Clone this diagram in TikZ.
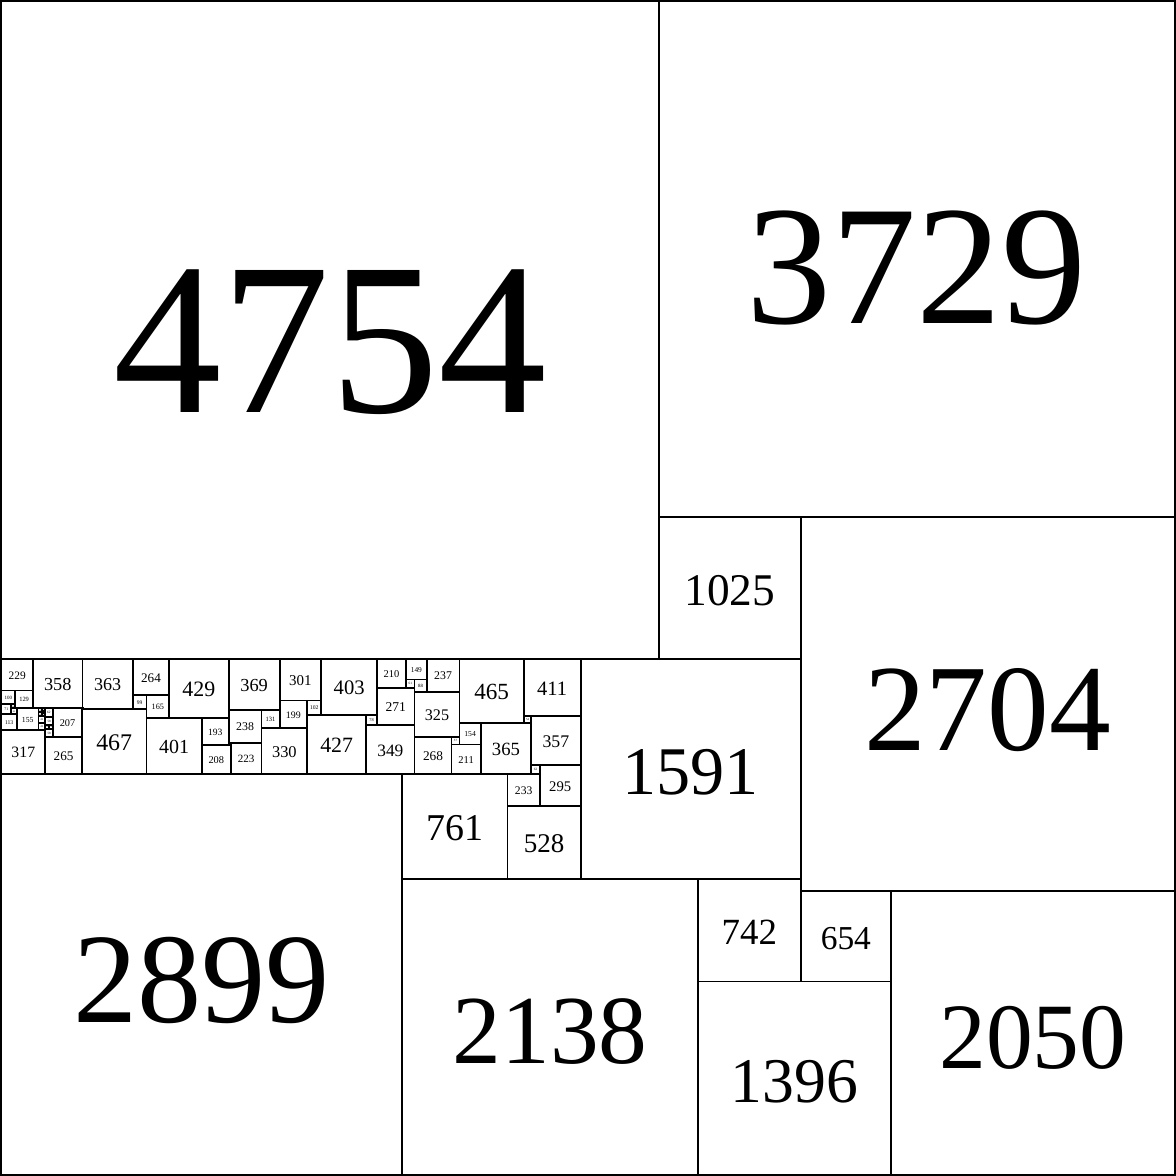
\documentclass[tikz,border=0pt]{standalone}
\usepackage{fontspec}
\setmainfont{Liberation Serif}
\begin{document}
\begin{tikzpicture}[x=0.02mm,y=-0.02mm,
   sqbox/.style={draw,line width=0.75pt,inner sep=0pt,outer sep=0pt,align=center}]
  \useasboundingbox (-10,-10) rectangle (8493,8493);
  % x/y of the top left corner, side, label size ratio
  \foreach \x/\y/\s/\r [count=\i] in {
      % large squares
      0/0/4754/.33, 4754/0/3729/.33, 4754/3729/1025/.32, 5779/3729/2704/.33,
      4188/4754/1591/.31, 5037/6345/742/.36, 5779/6433/654/.37,
      5037/7087/1396/.33, 6433/6433/2050/.33, 2899/6345/2138/.33,
      0/5584/2899/.32, 2899/5584/761/.36, 3660/5584/233/.36,
      3893/5522/295/.36, 3660/5817/528/.37,
      % top row of the strip
      0/4754/229/.36, 229/4754/358/.37, 587/4754/363/.36, 950/4754/264/.36,
      1214/4754/429/.37, 1643/4754/369/.36, 2012/4754/301/.36,
      2313/4754/403/.37, 2716/4754/210/.36, 2926/4754/149/.36,
      3075/4754/237/.36, 3312/4754/465/.36, 3777/4754/411/.36,
      % rest of the strip
      0/4983/100/.36, 100/4983/129/.36, 0/5083/71/.4, 71/5083/29/.4,
      71/5112/42/.4, 0/5154/113/.36, 113/5112/155/.36, 375/5112/207/.36,
      582/5112/5/.4, 0/5267/317/.36, 317/5319/265/.36, 582/5117/467/.37,
      950/5018/99/.4, 1049/5018/165/.36, 1049/5183/401/.36,
      1450/5183/193/.36, 1450/5376/208/.36, 1643/5123/238/.36,
      1643/5361/15/.4, 1658/5361/223/.36, 1881/5123/131/.36,
      1881/5254/330/.36, 2012/5055/199/.36, 2211/5055/102/.4,
      2211/5157/427/.37, 2638/5157/78/.4, 2716/4964/271/.36,
      2638/5235/349/.36, 2926/4903/61/.4, 2987/4903/88/.4,
      2987/4991/325/.36, 2987/5316/268/.36, 3255/5316/57/.4,
      3255/5373/211/.36, 3312/5219/154/.36, 3466/5219/365/.37,
      3777/5165/54/.4, 3831/5165/357/.36, 3831/5522/62/.4,
      % tiny ones next to 155
      313/5112/62/.4, 268/5112/28/.4, 296/5112/17/.4, 296/5129/17/.4,
      268/5140/29/.4, 296/5146/17/.4, 268/5169/49/.4, 268/5218/49/.4,
      317/5174/58/.4, 317/5232/29/.4, 346/5232/29/.4, 317/5261/58/.4}{
    \pgfmathsetmacro{\sqfs}{max(0.8,\r*\s*0.0569)}
    \pgfmathsetmacro{\sqht}{0.76*\sqfs}
    \pgfmathsetmacro{\sqw}{\s*0.02}
    \node[sqbox,minimum size=\sqw mm,text height=\sqht pt,text depth=0pt,
          font=\fontsize{\sqfs pt}{\sqfs pt}\selectfont] (q\i) at ({\x+\s/2},{\y+\s/2}) {\s};
  }
\end{tikzpicture}
\end{document}
